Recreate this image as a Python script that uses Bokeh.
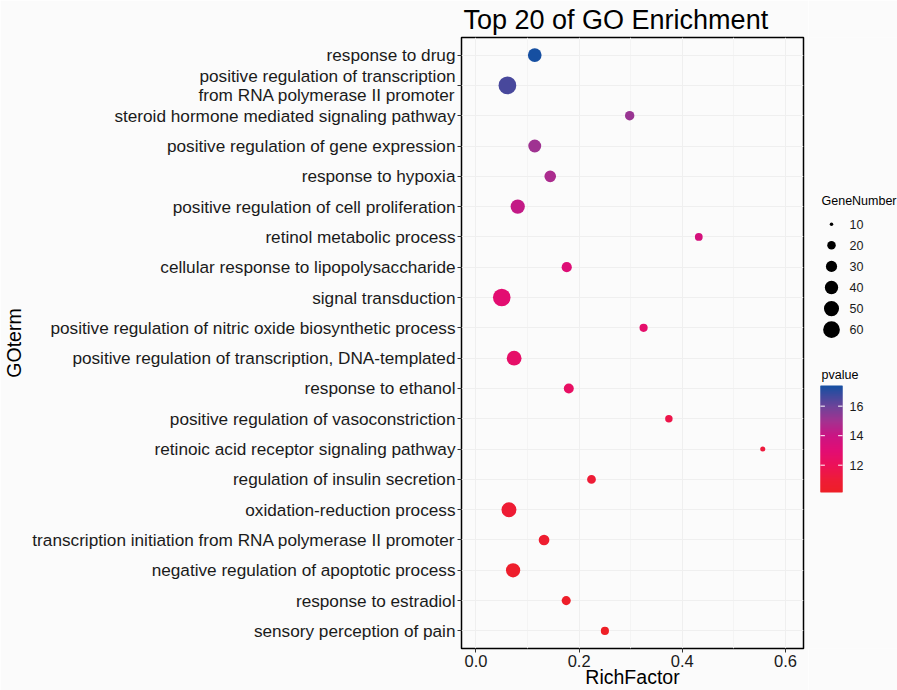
import numpy as np
from bokeh.plotting import figure
from bokeh.models import (ColumnDataSource, Range1d, FactorRange, FixedTicker,
                          LinearColorMapper, PrintfTickFormatter)
from bokeh.layouts import row
from bokeh.core.properties import value
from bokeh.embed import file_html
from bokeh.resources import INLINE

# ---------------- data (top row first) ----------------
go_terms = [
    "response to drug",
    "positive regulation of transcription\nfrom RNA polymerase II promoter",
    "steroid hormone mediated signaling pathway",
    "positive regulation of gene expression",
    "response to hypoxia",
    "positive regulation of cell proliferation",
    "retinol metabolic process",
    "cellular response to lipopolysaccharide",
    "signal transduction",
    "positive regulation of nitric oxide biosynthetic process",
    "positive regulation of transcription, DNA-templated",
    "response to ethanol",
    "positive regulation of vasoconstriction",
    "retinoic acid receptor signaling pathway",
    "regulation of insulin secretion",
    "oxidation-reduction process",
    "transcription initiation from RNA polymerase II promoter",
    "negative regulation of apoptotic process",
    "response to estradiol",
    "sensory perception of pain",
]
rich_factor = [0.114, 0.061, 0.298, 0.114, 0.144, 0.081, 0.432, 0.176, 0.050, 0.325,
               0.074, 0.180, 0.374, 0.556, 0.224, 0.064, 0.132, 0.072, 0.175, 0.250]
gene_number = [42, 67, 23, 38, 32, 45, 18, 26, 66, 19,
               48, 25, 17, 12, 21, 49, 28, 45, 22, 19]
pvalue = [17.4, 16.6, 15.2, 15.1, 14.8, 14.2, 13.6, 13.2, 12.9, 12.7,
          12.6, 12.4, 11.6, 11.2, 11.0, 10.9, 10.7, 10.5, 10.3, 10.15]

legend_counts = [10, 20, 30, 40, 50, 60]
pvalue_ticks = [12, 14, 16]
x_ticks = [0.0, 0.2, 0.4, 0.6]
x_minor_ticks = [0.1, 0.3, 0.5]

# ---------------- styles ----------------
FONTNAME = "Liberation Sans"
FONT = value(FONTNAME)
BG = "#FBFBFB"
stop_vals = [10.15, 11.0, 12.0, 13.0, 14.0, 15.0, 16.0, 17.4]
stop_cols = ["#EE1F26", "#EE1C36", "#EC1158", "#E20D73", "#CB1483", "#A43190", "#6E4399", "#164FA1"]


def hex2rgb(h):
    return [int(h[i:i + 2], 16) for i in (1, 3, 5)]


lo, hi = min(pvalue), max(pvalue)
grid_v = np.linspace(lo, hi, 256)
rgb = np.array([hex2rgb(c) for c in stop_cols], dtype=float)
sv = np.interp(np.array(stop_vals), [stop_vals[0], stop_vals[-1]], [lo, hi])
palette = []
for v in grid_v:
    r, g, b = (int(round(np.interp(v, sv, rgb[:, k]))) for k in range(3))
    palette.append("#%02x%02x%02x" % (r, g, b))
mapper = LinearColorMapper(palette=palette, low=lo, high=hi)


def dot_size(n):
    n = np.asarray(n, dtype=float)
    return 1.35 + 2.15 * np.sqrt(np.maximum(n - 9.0, 0.0))


TOTAL_W, TOTAL_H = 897, 690
FRAME_TOP, FRAME_BOTTOM = 37, 648
MAIN_W = 808
LEG_W = TOTAL_W - MAIN_W

# ---------------- main panel ----------------
src = ColumnDataSource(dict(term=go_terms, rich=rich_factor, genes=gene_number,
                            pv=pvalue, size=dot_size(gene_number)))

p = figure(width=MAIN_W, height=TOTAL_H,
           x_range=Range1d(-0.028, 0.635),
           y_range=FactorRange(factors=go_terms[::-1], range_padding=0.08,
                               range_padding_units="absolute"),
           output_backend="svg", toolbar_location=None,
           min_border_left=461, min_border_right=5,
           min_border_top=FRAME_TOP, min_border_bottom=TOTAL_H - FRAME_BOTTOM,
           background_fill_color=BG, border_fill_color=BG)

p.scatter(x="rich", y="term", size="size", source=src,
          fill_color={"field": "pv", "transform": mapper}, line_color=None)

p.title.text = "Top 20 of GO Enrichment"
p.title.text_font = FONTNAME
p.title.text_font_size = "27px"
p.title.text_font_style = "normal"
p.title.text_color = "black"
p.title.align = "left"
p.title.offset = 2
p.title.standoff = 5

p.outline_line_color = "black"
p.outline_line_width = 1.5

p.xaxis.ticker = FixedTicker(ticks=x_ticks, minor_ticks=x_minor_ticks)
p.xaxis.formatter = PrintfTickFormatter(format="%.1f")
p.xaxis.axis_label = "RichFactor"
p.yaxis.axis_label = "GOterm"
for ax in (p.xaxis, p.yaxis):
    ax.axis_line_color = None
    ax.major_tick_line_color = "#333333"
    ax.major_tick_out = 4
    ax.major_tick_in = 0
    ax.minor_tick_line_color = None
    ax.major_label_text_font = FONTNAME
    ax.major_label_text_color = "#1a1a1a"
    ax.major_label_standoff = 2
    ax.axis_label_text_font = FONTNAME
    ax.axis_label_text_font_size = "19.5px"
    ax.axis_label_text_font_style = "normal"
    ax.axis_label_text_color = "black"
p.xaxis.major_label_text_font_size = "16.5px"
p.yaxis.major_label_text_font_size = "17.2px"
p.yaxis.major_label_text_line_height = 0.95
p.xaxis.axis_label_standoff = -4
p.yaxis.axis_label_standoff = 4

p.xgrid.grid_line_color = "#EFEFEF"
p.xgrid.minor_grid_line_color = "#F4F4F4"
p.ygrid.grid_line_color = "#EFEFEF"

# ---------------- legend panel (page pixel coordinates, y downwards) ----------------
leg = figure(width=LEG_W, height=TOTAL_H,
             x_range=Range1d(MAIN_W, TOTAL_W), y_range=Range1d(FRAME_BOTTOM, FRAME_TOP),
             x_axis_type=None, y_axis_type=None,
             output_backend="svg", toolbar_location=None, min_border=0,
             outline_line_color=None, background_fill_color=BG, border_fill_color=BG)
leg.grid.visible = False

LEG_FS = "12.5px"
title_x = 821
key_x, label_x, first_y, step = 831, 849, 223.7, 21.1
ys = [first_y + i * step for i in range(len(legend_counts))]
lsrc = ColumnDataSource(dict(x=[key_x] * len(legend_counts), y=ys,
                             size=dot_size(legend_counts),
                             lx=[label_x] * len(legend_counts),
                             txt=[str(c) for c in legend_counts]))
leg.scatter(x="x", y="y", size="size", source=lsrc, fill_color="black", line_color=None)
leg.text(x="lx", y="y", text="txt", source=lsrc, text_font=FONT, text_font_size=LEG_FS,
         text_baseline="middle", text_align="left", text_color="#1a1a1a")
leg.text(x=[title_x], y=[200.7], text=["GeneNumber"], text_font=FONT, text_font_size=LEG_FS,
         text_baseline="middle", text_align="left", text_color="black")

# colour bar drawn from the mapper
bar_l, bar_r, bar_top, bar_bot = 820, 842, 385, 492
n_strip = bar_bot - bar_top


def bar_y(v):
    return bar_bot - (np.asarray(v, dtype=float) - lo) / (hi - lo) * (bar_bot - bar_top)


edges = np.linspace(lo, hi, n_strip + 1)
strip_v = 0.5 * (edges[:-1] + edges[1:])
y_low = np.minimum(bar_y(edges[:-1]) + 0.5, bar_bot)
y_high = np.maximum(bar_y(edges[1:]) - 0.5, bar_top)
bsrc = ColumnDataSource(dict(v=strip_v, b=y_low, t=y_high))
leg.quad(left=bar_l, right=bar_r, bottom="b", top="t", source=bsrc,
         fill_color={"field": "v", "transform": mapper}, line_color=None)
ty = bar_y(pvalue_ticks)
tick_len = (bar_r - bar_l) / 5
leg.segment(x0=[bar_l] * 3, x1=[bar_l + tick_len] * 3, y0=ty, y1=ty, line_color="white", line_width=1)
leg.segment(x0=[bar_r - tick_len] * 3, x1=[bar_r] * 3, y0=ty, y1=ty, line_color="white", line_width=1)
leg.text(x=[label_x] * 3, y=ty, text=[str(t) for t in pvalue_ticks], text_font=FONT,
         text_font_size=LEG_FS, text_baseline="middle", text_align="left", text_color="#1a1a1a")
leg.text(x=[title_x], y=[374], text=["pvalue"], text_font=FONT, text_font_size=LEG_FS,
         text_baseline="middle", text_align="left", text_color="black")

layout = row(p, leg)
open("out.html", "w").write(file_html(layout, INLINE))
